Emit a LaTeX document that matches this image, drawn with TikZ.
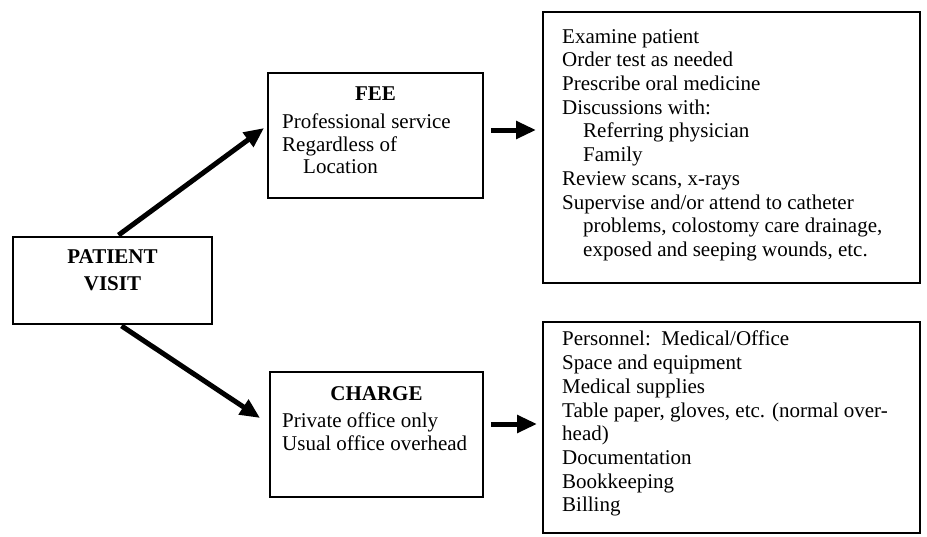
\documentclass[tikz,border=0pt]{standalone}
\usepackage{fontspec}
\setmainfont{Liberation Serif}
\usetikzlibrary{arrows.meta,calc}
\begin{document}
\begin{tikzpicture}[x=1pt,y=-1pt,
  boxx/.style={draw, line width=1.8pt, inner sep=0pt},
  txt/.style={font=\fontsize{21}{23.7}\selectfont, align=left, inner sep=0pt, anchor=north west},
  txtfee/.style={font=\fontsize{21}{22.5}\selectfont, align=left, inner sep=0pt, anchor=north west},
  titl/.style={font=\fontsize{21}{27}\selectfont\bfseries, align=center, inner sep=0pt},
  bigarrow/.style={line width=5pt, -{Triangle[length=20pt,width=17pt]}},
]
\useasboundingbox[fill=white] (0,0) rectangle (927,536);

% boxes
\node[boxx, minimum width=199pt, minimum height=87pt] (pv) at (112.5,280.5) {};
\node[boxx, minimum width=215pt, minimum height=125pt] (fee) at (375.5,135.5) {};
\node[boxx, minimum width=213pt, minimum height=125pt] (chg) at (376.5,434.5) {};
\node[boxx, minimum width=377pt, minimum height=271pt] (rt) at (731.5,147.5) {};
\node[boxx, minimum width=377pt, minimum height=211pt] (rb) at (731.5,427.5) {};

% texts
\node[titl, anchor=north] (pvT) at (112.5,249) {PATIENT\\VISIT};
\node[titl, anchor=base] (feeT) at (375.5,100) {FEE};
\node[txtfee] (feeL) at (282,114) {Professional service\\Regardless of\\\hspace*{1em}Location};
\node[titl, anchor=base] (chgT) at (376.5,400) {CHARGE};
\node[txtfee] (chgL) at (282,413) {Private office only\\Usual office overhead};
\node[txt] (rtL) at (562,29) {Examine patient\\Order test as needed\\Prescribe oral medicine\\Discussions with:\\\hspace*{1em}Referring physician\\\hspace*{1em}Family\\Review scans, x-rays\\Supervise and/or attend to catheter\\\hspace*{1em}problems, colostomy care drainage,\\\hspace*{1em}exposed and seeping wounds, etc.};
\node[txt] (rbL) at (562,331) {Personnel:\ \ Medical/Office\\Space and equipment\\Medical supplies\\Table paper, gloves, etc. (normal over-\\head)\\Documentation\\Bookkeeping\\Billing};

% arrows
\draw[bigarrow] ($(pv.north)+(6,-1)$) -- ($(fee.west)+(-3,-7.5)$);
\draw[bigarrow] ($(pv.south)+(9,1)$) -- ($(chg.west)+(-9,-16.5)$);
\draw[bigarrow] ($(fee.east)+(7,-5.5)$) -- ($(rt.west)+(-6,-17.5)$);
\draw[bigarrow] ($(chg.east)+(7,-10.5)$) -- ($(rb.west)+(-5,-3.5)$);
\end{tikzpicture}
\end{document}
